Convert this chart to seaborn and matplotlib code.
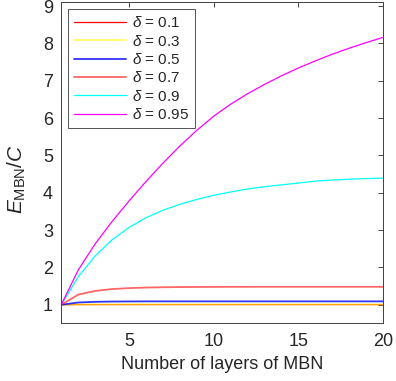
import matplotlib
matplotlib.use("Agg")
import matplotlib.pyplot as plt
import seaborn as sns
import pandas as pd

# ---- data ----
layers = list(range(1, 21))
deltas = ["0.1", "0.3", "0.5", "0.7", "0.9", "0.95"]
e_d01 = [1.000, 1.004, 1.004, 1.004, 1.004, 1.004, 1.004, 1.004, 1.004, 1.004,
         1.004, 1.004, 1.004, 1.004, 1.004, 1.004, 1.004, 1.004, 1.004, 1.004]
e_d03 = [1.000, 1.007, 1.008, 1.008, 1.008, 1.008, 1.008, 1.008, 1.008, 1.008,
         1.008, 1.008, 1.008, 1.008, 1.008, 1.008, 1.008, 1.008, 1.008, 1.008]
e_d05 = [1.000, 1.060, 1.078, 1.085, 1.088, 1.090, 1.090, 1.090, 1.090, 1.090,
         1.090, 1.090, 1.090, 1.090, 1.090, 1.090, 1.090, 1.090, 1.090, 1.090]
e_d07 = [1.000, 1.270, 1.370, 1.420, 1.445, 1.460, 1.468, 1.473, 1.476, 1.478,
         1.479, 1.480, 1.480, 1.480, 1.480, 1.480, 1.480, 1.480, 1.480, 1.480]
e_d09 = [1.00, 1.75, 2.31, 2.74, 3.07, 3.33, 3.53, 3.69, 3.82, 3.93,
         4.02, 4.10, 4.16, 4.21, 4.26, 4.31, 4.34, 4.36, 4.38, 4.39]
e_d095 = [1.00, 1.93, 2.63, 3.23, 3.78, 4.30, 4.79, 5.25, 5.67, 6.05,
          6.37, 6.65, 6.90, 7.13, 7.34, 7.53, 7.71, 7.87, 8.02, 8.16]
series = [e_d01, e_d03, e_d05, e_d07, e_d09, e_d095]
x_ticks = [5, 10, 15, 20]
y_ticks = [1, 2, 3, 4, 5, 6, 7, 8, 9]

# ---- styles ----
colors = ["#ff0000", "#ffff00", "#0000ff", "#ff0000", "#00ffff", "#ff00ff"]
alphas = [1.0, 0.65, 0.8, 0.6, 1.0, 1.0]
widths = [0.9, 1.2, 1.3, 1.3, 0.9, 0.9]

sns.set_style("white")
plt.rcParams["font.family"] = ["Liberation Sans", "DejaVu Sans"]
plt.rcParams["mathtext.fontset"] = "custom"
plt.rcParams["mathtext.rm"] = "Liberation Sans"
plt.rcParams["mathtext.it"] = "Liberation Sans:italic"

fig = plt.figure(figsize=(3.96, 3.81), dpi=100)
ax = fig.add_axes([61.3 / 396, 1 - 323.4 / 381, (383 - 61.3) / 396, (323.4 - 2.3) / 381])

rows = []
for d, vals in zip(deltas, series):
    for n, v in zip(layers, vals):
        rows.append({"layers": n, "E": v, "delta": d})
df = pd.DataFrame(rows)

for i, d in enumerate(deltas):
    sub = df[df["delta"] == d]
    sns.lineplot(data=sub, x="layers", y="E", ax=ax, color=colors[i],
                 alpha=alphas[i], linewidth=widths[i],
                 label=r"$\delta$ = " + d)

ax.set_xlim(1, 20)
ax.set_ylim(0.5, 9.1)
ax.set_xticks(x_ticks)
ax.set_yticks(y_ticks)
ax.tick_params(direction="in", top=True, right=True, length=3.5, width=0.6,
               labelsize=13, colors="#262626")
ax.tick_params(axis="x", pad=7)
ax.tick_params(axis="y", pad=6)
for sp in ax.spines.values():
    sp.set_color("#404040")
    sp.set_linewidth(0.7)

ax.set_xlabel("Number of layers of MBN", fontsize=13, color="#262626", labelpad=4)
ax.set_ylabel(r"$E_{\mathrm{MBN}}/C$", fontsize=15, color="#262626")
ax.yaxis.set_label_coords(-0.105, 0.45)

leg = ax.legend(loc="upper left", fontsize=11, handlelength=3.4, handletextpad=0.35,
                labelspacing=0.22, borderaxespad=0.45, borderpad=0.4,
                frameon=True, fancybox=False, edgecolor="#262626")
leg.get_frame().set_linewidth(0.7)
for t in leg.get_texts():
    t.set_color("#262626")

fig.savefig("out.png", dpi=100)
